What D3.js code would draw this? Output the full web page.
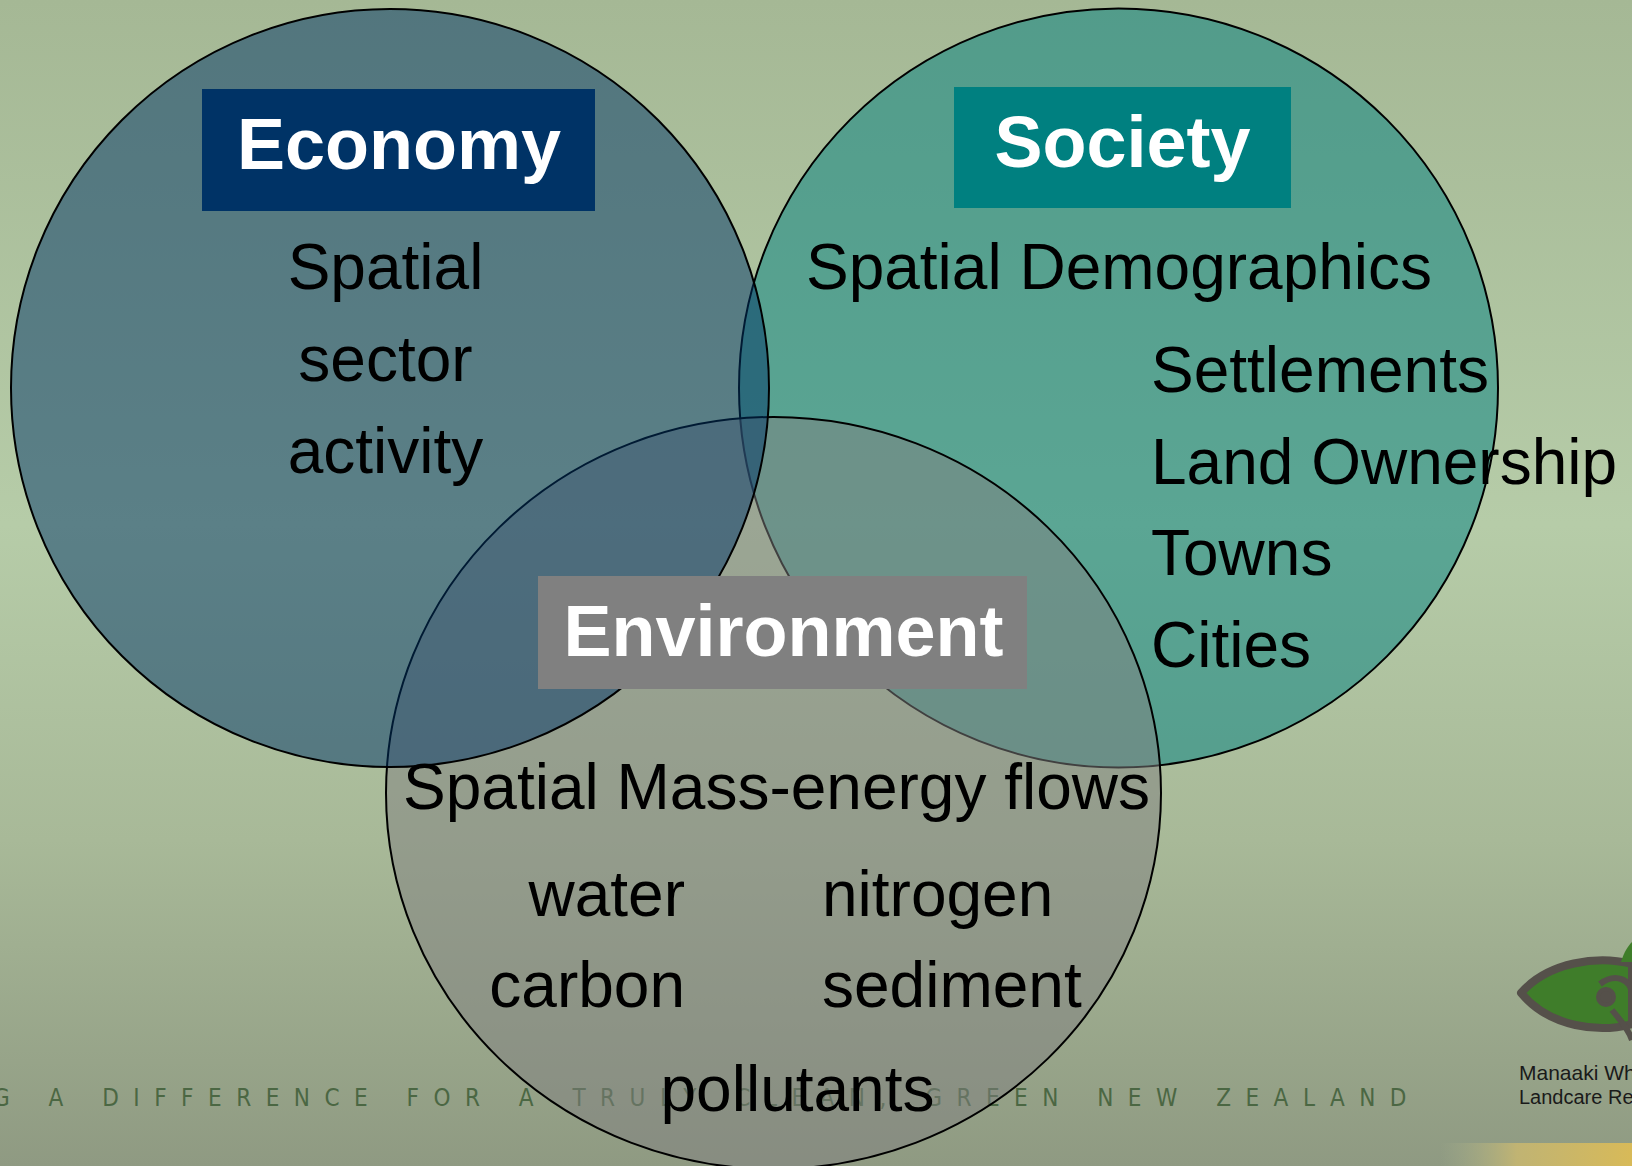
<!DOCTYPE html>
<html>
<head>
<meta charset="utf-8">
<script src="https://cdn.jsdelivr.net/npm/d3@7"></script>
<style>
html,body{margin:0;padding:0;overflow:hidden;background:#a8ba98;}
svg{display:block;}
</style>
</head>
<body>
<script>
// ---------- data ----------
const sets = ["Economy", "Society", "Environment"];
const setColors = ["#003366", "#008080", "#808080"];
const economyItems = ["Spatial", "sector", "activity"];
const societyHeading = "Spatial Demographics";
const societyItems = ["Settlements", "Land Ownership", "Towns", "Cities"];
const environmentHeading = "Spatial Mass-energy flows";
const environmentLeft = ["water", "carbon"];
const environmentRight = ["nitrogen", "sediment"];
const environmentBottom = ["pollutants"];
const tagline = "MAKING A DIFFERENCE FOR A TRULY CLEAN, GREEN NEW ZEALAND";
const logoLines = ["Manaaki Whenua", "Landcare Research"];

// ---------- layout ----------
const W = 1632, H = 1166;
const svg = d3.select("body").append("svg").attr("width", W).attr("height", H);
const defs = svg.append("defs");

const bg = defs.append("linearGradient").attr("id", "bg").attr("x1", 0).attr("y1", 0).attr("x2", 0).attr("y2", 1);
[[0, "#a5b895"], [0.45, "#b6cca8"], [0.72, "#a8b998"], [1, "#8f9a82"]]
  .forEach(([o, c]) => bg.append("stop").attr("offset", o).attr("stop-color", c));
svg.append("rect").attr("width", W).attr("height", H).attr("fill", "url(#bg)");

const gold = defs.append("linearGradient").attr("id", "gold").attr("x1", 0).attr("y1", 0).attr("x2", 1).attr("y2", 0);
[[0, "#a9b48f", 0], [0.4, "#c9b870", 0.85], [1, "#d8ba58", 1]]
  .forEach(([o, c, op]) => gold.append("stop").attr("offset", o).attr("stop-color", c).attr("stop-opacity", op));

// tagline (drawn under the circles)
svg.append("text")
  .attr("x", 1421).attr("y", 1106)
  .attr("text-anchor", "end")
  .attr("font-family", "'Liberation Sans Narrow','DejaVu Sans Condensed','Liberation Sans',sans-serif")
  .attr("font-size", 24)
  .attr("letter-spacing", 14.5)
  .attr("word-spacing", 3)
  .attr("fill", "#4b6743")
  .text(tagline);

// scales for the circles' geometry
const x = d3.scaleLinear().domain([0, 1]).range([0, W]);
const y = d3.scaleLinear().domain([0, 1]).range([0, H]);

const circles = [
  { name: "Society", color: setColors[1], cx: 1118.5, cy: 388, rx: 379.5, ry: 379.5 },
  { name: "Environment", color: setColors[2], cx: 773.5, cy: 793, rx: 387.5, ry: 376 },
  { name: "Economy", color: setColors[0], cx: 390, cy: 388, rx: 379, ry: 379 }
];

svg.append("g").selectAll("ellipse").data(circles).join("ellipse")
  .attr("cx", d => x(d.cx / W)).attr("cy", d => y(d.cy / H))
  .attr("rx", d => d.rx).attr("ry", d => d.ry)
  .attr("fill", d => d.color).attr("fill-opacity", 0.5)
  .attr("stroke", "#000").attr("stroke-width", 2);

// label boxes
const boxes = [
  { name: sets[0], color: setColors[0], x0: 202, y0: 89, x1: 595, y1: 211, tx: 399, ty: 168.5 },
  { name: sets[1], color: setColors[1], x0: 954, y0: 87, x1: 1291, y1: 208, tx: 1122.5, ty: 166.5 },
  { name: sets[2], color: setColors[2], x0: 538, y0: 576, x1: 1027, y1: 689, tx: 783.5, ty: 656 }
];
const bg2 = svg.append("g");
bg2.selectAll("rect").data(boxes).join("rect")
  .attr("x", d => d.x0).attr("y", d => d.y0)
  .attr("width", d => d.x1 - d.x0).attr("height", d => d.y1 - d.y0)
  .attr("fill", d => d.color);
bg2.selectAll("text").data(boxes).join("text")
  .attr("x", d => d.tx).attr("y", d => d.ty)
  .attr("text-anchor", "middle")
  .attr("font-family", "'Liberation Sans',Arial,sans-serif")
  .attr("font-weight", "bold").attr("font-size", 72)
  .attr("fill", "#fff")
  .text(d => d.name);

// body texts
const body = svg.append("g")
  .attr("font-family", "'Liberation Sans',Arial,sans-serif")
  .attr("font-size", 64).attr("fill", "#000");

const lineStep = 92;
body.selectAll(".eco").data(economyItems).join("text").attr("class", "eco")
  .attr("x", 385.5).attr("y", (d, i) => 289 + i * lineStep)
  .attr("text-anchor", "middle").text(d => d);

body.append("text").attr("x", 1119).attr("y", 289).attr("text-anchor", "middle").text(societyHeading);
body.selectAll(".soc").data(societyItems).join("text").attr("class", "soc")
  .attr("x", 1151).attr("y", (d, i) => 392 + i * 91.5).text(d => d);

body.append("text").attr("x", 776.5).attr("y", 809).attr("text-anchor", "middle").text(environmentHeading);
body.selectAll(".envl").data(environmentLeft).join("text").attr("class", "envl")
  .attr("x", 685).attr("y", (d, i) => 916 + i * 91).attr("text-anchor", "end").text(d => d);
body.selectAll(".envr").data(environmentRight).join("text").attr("class", "envr")
  .attr("x", 822).attr("y", (d, i) => 916 + i * 91).text(d => d);
body.selectAll(".envb").data(environmentBottom).join("text").attr("class", "envb")
  .attr("x", 797.5).attr("y", 1111).attr("text-anchor", "middle").text(d => d);

// logo (bottom right, partly cut off)
const logo = svg.append("g");
logo.append("rect").attr("x", 1440).attr("y", 1143).attr("width", 192).attr("height", 23).attr("fill", "url(#gold)");
logo.append("path")
  .attr("d", "M1521,993 C1548,962 1598,955 1632,964 L1632,1024 C1600,1033 1550,1028 1521,993 Z")
  .attr("fill", "#3f7d2a").attr("stroke", "#55504a").attr("stroke-width", 8).attr("stroke-linejoin", "round");
logo.append("path")
  .attr("d", "M1621,962 C1624,952 1628,946 1632,942 L1632,962 Z")
  .attr("fill", "#3f7d2a");
logo.append("circle").attr("cx", 1606).attr("cy", 997).attr("r", 8).attr("fill", "#55504a")
  .attr("stroke", "#55504a").attr("stroke-width", 4);
logo.append("path").attr("d", "M1600,984 C1616,972 1632,980 1632,995")
  .attr("fill", "none").attr("stroke", "#55504a").attr("stroke-width", 6);
logo.append("path").attr("d", "M1612,1010 C1620,1020 1628,1028 1632,1040")
  .attr("fill", "none").attr("stroke", "#55504a").attr("stroke-width", 6);
logo.selectAll("text").data(logoLines).join("text")
  .attr("x", 1519).attr("y", (d, i) => 1080 + i * 24)
  .attr("font-family", "'Liberation Sans',Arial,sans-serif")
  .attr("font-size", (d, i) => i === 0 ? 21 : 20)
  .attr("fill", "#1a1a1a").text(d => d);
</script>
</body>
</html>
